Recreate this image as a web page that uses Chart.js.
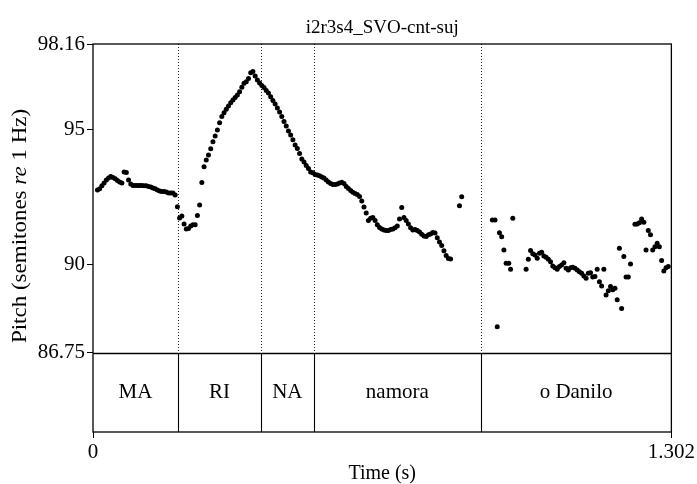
<!DOCTYPE html>
<html>
<head>
<meta charset="utf-8">
<script src="https://cdn.jsdelivr.net/npm/chart.js@4.4.1/dist/chart.umd.min.js"></script>
<style>
  html, body { margin: 0; padding: 0; background: #fff; }
</style>
</head>
<body>
<canvas id="pitchChart" width="697" height="484"></canvas>
<script>
const chartTitle = "i2r3s4_SVO-cnt-suj"
const pitchMin = 86.75
const pitchMax = 98.16
const timeMax = 1.302
const pitchTicks = [98.16, 95, 90, 86.75]
const timeTicks = [0, 1.302]

// text tier: interval labels and boundaries (s)
const segmentLabels = ["MA", "RI", "NA", "namora", "o Danilo"]
const segmentBounds = [0, 0.191, 0.378, 0.497, 0.873, 1.302]

// pitch track, time (s) and pitch (semitones re 1 Hz)
const frameTimes = [
  0.010, 0.015, 0.020, 0.025, 0.030, 0.035, 0.040, 0.045, 0.050, 0.055,
  0.060, 0.065, 0.070, 0.075, 0.080, 0.085, 0.090, 0.095, 0.100, 0.105,
  0.110, 0.115, 0.120, 0.125, 0.130, 0.135, 0.140, 0.145, 0.150, 0.155,
  0.160, 0.165, 0.170, 0.175, 0.180, 0.185, 0.190, 0.195, 0.200, 0.205,
  0.210, 0.215, 0.220, 0.225, 0.230, 0.235, 0.240, 0.245, 0.250, 0.255,
  0.260, 0.265, 0.270, 0.275, 0.280, 0.285, 0.290, 0.295, 0.300, 0.305,
  0.310, 0.315, 0.320, 0.325, 0.330, 0.335, 0.340, 0.345, 0.350, 0.355,
  0.360, 0.365, 0.370, 0.375, 0.380, 0.385, 0.390, 0.395, 0.400, 0.405,
  0.410, 0.415, 0.420, 0.425, 0.430, 0.435, 0.440, 0.445, 0.450, 0.455,
  0.460, 0.465, 0.470, 0.475, 0.480, 0.485, 0.490, 0.495, 0.500, 0.505,
  0.510, 0.515, 0.520, 0.525, 0.530, 0.535, 0.540, 0.545, 0.550, 0.555,
  0.560, 0.565, 0.570, 0.575, 0.580, 0.585, 0.590, 0.595, 0.600, 0.605,
  0.610, 0.615, 0.620, 0.625, 0.630, 0.635, 0.640, 0.645, 0.650, 0.655,
  0.660, 0.665, 0.670, 0.675, 0.680, 0.685, 0.690, 0.695, 0.700, 0.705,
  0.710, 0.715, 0.720, 0.725, 0.730, 0.735, 0.740, 0.745, 0.750, 0.755,
  0.760, 0.765, 0.770, 0.775, 0.780, 0.785, 0.790, 0.795, 0.800, 0.805,
  0.825, 0.830,
  0.899, 0.905, 0.910, 0.915, 0.920, 0.925, 0.930, 0.936, 0.940, 0.945,
  0.975, 0.980, 0.985, 0.990, 0.995, 1.000, 1.005, 1.010, 1.015, 1.020,
  1.025, 1.030, 1.035, 1.040, 1.045, 1.050, 1.055, 1.060, 1.065, 1.070,
  1.075, 1.080, 1.085, 1.090, 1.095, 1.100, 1.105, 1.110, 1.115, 1.120,
  1.125, 1.130, 1.135, 1.140, 1.145, 1.150, 1.155, 1.160, 1.165, 1.170,
  1.175, 1.180, 1.185, 1.190, 1.195, 1.200, 1.205, 1.210,
  1.220, 1.225, 1.230, 1.235, 1.240, 1.245, 1.250, 1.255, 1.260, 1.265,
  1.270, 1.275, 1.280, 1.285, 1.290, 1.295
]
const pitchValues = [
  92.77, 92.81, 92.92, 93.03, 93.14, 93.21, 93.27, 93.23, 93.18, 93.12,
  93.06, 93.03, 93.43, 93.41, 93.14, 92.99, 92.93, 92.93, 92.93, 92.93,
  92.93, 92.92, 92.92, 92.90, 92.88, 92.84, 92.81, 92.77, 92.73, 92.71,
  92.71, 92.69, 92.66, 92.66, 92.66, 92.58, 92.15, 91.73, 91.81, 91.51,
  91.33, 91.35, 91.44, 91.48, 91.48, 91.83, 92.21, 93.04, 93.63, 93.88,
  94.06, 94.29, 94.55, 94.76, 94.98, 95.25, 95.48, 95.62, 95.75, 95.87,
  95.99, 96.09, 96.18, 96.28, 96.40, 96.56, 96.71, 96.77, 96.89, 97.10,
  97.14, 96.98, 96.83, 96.72, 96.63, 96.55, 96.44, 96.35, 96.21, 96.07,
  95.94, 95.80, 95.65, 95.48, 95.30, 95.13, 94.95, 94.80, 94.62, 94.43,
  94.30, 94.12, 93.91, 93.80, 93.67, 93.56, 93.43, 93.40, 93.34, 93.32,
  93.29, 93.25, 93.21, 93.14, 93.06, 93.01, 92.97, 92.97, 92.99, 93.03,
  93.05, 93.01, 92.90, 92.82, 92.75, 92.68, 92.64, 92.60, 92.53, 92.36,
  92.14, 91.92, 91.64, 91.72, 91.75, 91.64, 91.48, 91.38, 91.33, 91.29,
  91.27, 91.27, 91.31, 91.33, 91.37, 91.44, 91.70, 92.12, 91.75, 91.64,
  91.51, 91.37, 91.29, 91.31, 91.27, 91.22, 91.13, 91.07, 91.05, 91.11,
  91.14, 91.20, 91.18, 91.00, 90.85, 90.72, 90.52, 90.35, 90.24, 90.22,
  92.19, 92.52,
  91.66, 91.66, 87.72, 91.19, 91.04, 90.55, 90.06, 90.06, 89.84, 91.72,
  89.84, 90.21, 90.53, 90.41, 90.37, 90.25, 90.43, 90.47, 90.33, 90.28,
  90.21, 90.12, 89.96, 89.90, 89.84, 89.94, 90.00, 90.08, 89.88, 89.81,
  89.90, 89.91, 89.88, 89.81, 89.75, 89.69, 89.59, 89.51, 89.69, 89.71,
  89.55, 89.57, 89.84, 89.38, 89.22, 89.84, 88.89, 89.05, 89.20, 89.08,
  89.14, 88.71, 90.62, 88.39, 90.31, 89.55, 89.55, 90.03,
  91.50, 91.51, 91.56, 91.70, 91.58, 90.55, 91.27, 91.11, 90.55, 90.67,
  90.80, 90.67, 90.16, 89.78, 89.90, 89.94
]

const serif = "'Liberation Serif', 'Times New Roman', serif"
// the text tier sits below the pitch range inside the same frame
const yFloor = pitchMin - (pitchMax - pitchMin) * 0.256

// Praat-style decorations: boundaries, tier, frame, titles
const praatPlugin = {
  id: "praatPlugin",
  beforeDatasetsDraw(chart) {
    const { ctx, chartArea: a, scales: { x, y } } = chart
    const yBase = y.getPixelForValue(pitchMin)
    ctx.save()
    ctx.strokeStyle = "#222"
    ctx.lineWidth = 1
    ctx.setLineDash([1, 2])
    segmentBounds.slice(1, -1).forEach(t => {
      const px = Math.round(x.getPixelForValue(t)) + 0.5
      ctx.beginPath()
      ctx.moveTo(px, a.top)
      ctx.lineTo(px, yBase)
      ctx.stroke()
    })
    ctx.restore()
  },
  afterDraw(chart) {
    const { ctx, chartArea: a, scales: { x, y } } = chart
    const yBase = Math.round(y.getPixelForValue(pitchMin)) + 0.5
    ctx.save()
    ctx.strokeStyle = "#000"
    ctx.lineWidth = 1.3
    ctx.strokeRect(a.left, a.top, a.right - a.left, a.bottom - a.top)
    ctx.beginPath()
    ctx.moveTo(a.left, yBase)
    ctx.lineTo(a.right, yBase)
    ctx.stroke()

    // tier boundaries
    ctx.lineWidth = 1.1
    segmentBounds.slice(1, -1).forEach(t => {
      const px = Math.round(x.getPixelForValue(t)) + 0.5
      ctx.beginPath()
      ctx.moveTo(px, yBase)
      ctx.lineTo(px, a.bottom)
      ctx.stroke()
    })

    // tier labels
    ctx.fillStyle = "#000"
    ctx.font = "21px " + serif
    ctx.textAlign = "center"
    ctx.textBaseline = "middle"
    segmentLabels.forEach((s, i) => {
      const cx = (x.getPixelForValue(segmentBounds[i]) + x.getPixelForValue(segmentBounds[i + 1])) / 2
      ctx.fillText(s, cx, (yBase + a.bottom) / 2)
    })

    // title over the plot frame
    ctx.font = "19px " + serif
    ctx.fillText(chartTitle, (a.left + a.right) / 2, 28)

    // y axis title with italic "re"
    const parts = [
      ["Pitch (semitones ", "20px " + serif],
      ["re", "italic 20px " + serif],
      [" 1 Hz)", "20px " + serif]
    ]
    let total = 0
    parts.forEach(p => { ctx.font = p[1]; total += ctx.measureText(p[0]).width })
    ctx.translate(21, 226)
    ctx.rotate(-Math.PI / 2)
    ctx.scale(1.15, 1)
    ctx.textAlign = "left"
    let cur = -total / 2
    parts.forEach(p => {
      ctx.font = p[1]
      ctx.fillText(p[0], cur, 0)
      cur += ctx.measureText(p[0]).width
    })
    ctx.restore()
  }
}

const points = frameTimes.map((t, i) => ({ x: t, y: pitchValues[i] }))

const ctx = document.getElementById("pitchChart").getContext("2d")
new Chart(ctx, {
  type: "scatter",
  data: {
    datasets: [
      {
        label: "Pitch",
        data: points,
        backgroundColor: "#000",
        borderWidth: 0,
        pointRadius: 2.5,
        pointHoverRadius: 2.5,
      },
    ],
  },
  options: {
    responsive: false,
    animation: false,
    events: [],
    layout: {
      padding: { top: 44, right: 25, bottom: 0, left: 0 },
    },
    plugins: {
      legend: { display: false },
      tooltip: { enabled: false },
    },
    scales: {
      x: {
        type: "linear",
        min: 0,
        max: timeMax,
        afterBuildTicks: (scale) => {
          scale.ticks = timeTicks.map(v => ({ value: v }))
        },
        afterFit: (scale) => {
          scale.height = 52
        },
        ticks: {
          autoSkip: false,
          maxRotation: 0,
          padding: 2,
          color: "#000",
          font: { family: serif, size: 21 },
          callback: (v) => String(v),
        },
        grid: {
          display: true,
          drawOnChartArea: false,
          drawTicks: true,
          tickLength: 6,
          color: "#000",
        },
        border: { display: false },
        title: {
          display: true,
          text: "Time (s)",
          color: "#000",
          font: { family: serif, size: 20, lineHeight: 1 },
          padding: { top: 0, bottom: 0 },
        },
      },
      y: {
        type: "linear",
        min: yFloor,
        max: pitchMax,
        afterBuildTicks: (scale) => {
          scale.ticks = pitchTicks.map(v => ({ value: v }))
        },
        afterFit: (scale) => {
          scale.width = 93
        },
        ticks: {
          autoSkip: false,
          padding: 2,
          color: "#000",
          font: { family: serif, size: 21 },
          callback: (v) => String(v),
        },
        grid: {
          display: true,
          drawOnChartArea: false,
          drawTicks: true,
          tickLength: 6,
          color: "#000",
        },
        border: { display: false },
      },
    },
  },
  plugins: [praatPlugin],
})
</script>
</body>
</html>
